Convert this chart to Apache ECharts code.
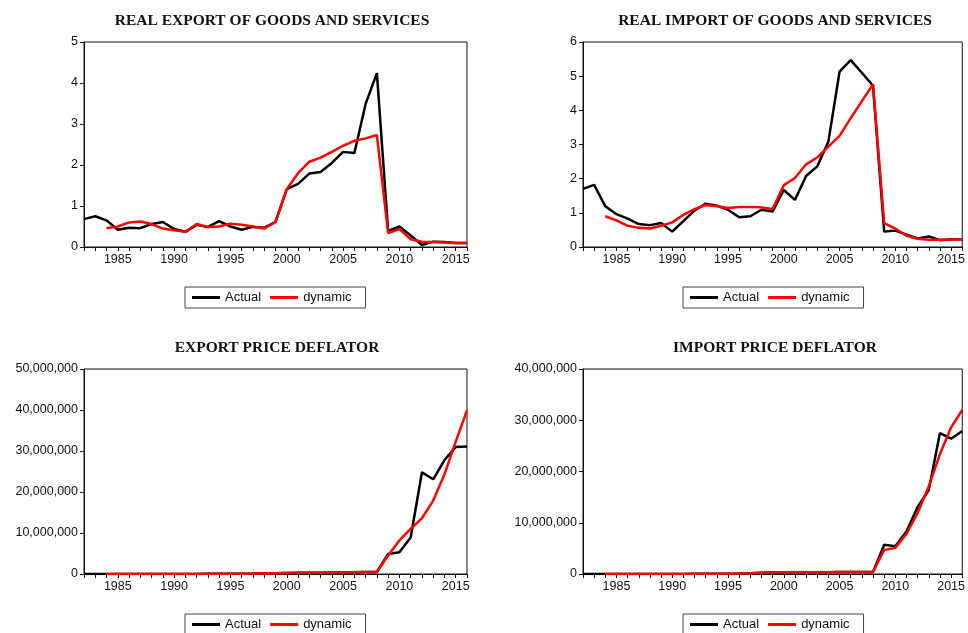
<!DOCTYPE html>
<html>
<head>
<meta charset="utf-8">
<script src="https://cdn.jsdelivr.net/npm/echarts@6/dist/echarts.min.js"></script>
<style>
  html, body { margin: 0; padding: 0; background: #fff; }
  #chart { width: 968px; height: 633px; }
</style>
</head>
<body>
<div id="chart"></div>
<script>
// Annual observations
var years = [1982, 1983, 1984, 1985, 1986, 1987, 1988, 1989, 1990, 1991,
             1992, 1993, 1994, 1995, 1996, 1997, 1998, 1999, 2000, 2001,
             2002, 2003, 2004, 2005, 2006, 2007, 2008, 2009, 2010, 2011,
             2012, 2013, 2014, 2015, 2016];

// Real export of goods and services
var exportActual = [0.68, 0.75, 0.65, 0.42, 0.47, 0.46, 0.56, 0.61, 0.44, 0.37,
                    0.54, 0.49, 0.63, 0.50, 0.42, 0.49, 0.47, 0.61, 1.41, 1.54,
                    1.79, 1.83, 2.05, 2.32, 2.29, 3.49, 4.24, 0.39, 0.50, 0.28,
                    0.05, 0.13, 0.12, 0.10, 0.10];
var exportDynamic = [null, null, 0.46, 0.50, 0.60, 0.62, 0.56, 0.45, 0.41, 0.37,
                     0.56, 0.49, 0.50, 0.57, 0.54, 0.50, 0.45, 0.61, 1.41, 1.80,
                     2.08, 2.18, 2.32, 2.47, 2.59, 2.65, 2.73, 0.34, 0.44, 0.19,
                     0.13, 0.12, 0.11, 0.10, 0.10];

// Real import of goods and services
var importActual = [1.70, 1.82, 1.19, 0.96, 0.83, 0.67, 0.64, 0.70, 0.45, 0.76,
                    1.07, 1.27, 1.21, 1.09, 0.87, 0.90, 1.09, 1.04, 1.67, 1.38,
                    2.08, 2.36, 3.09, 5.13, 5.47, 5.10, 4.72, 0.45, 0.48, 0.36,
                    0.25, 0.31, 0.20, 0.23, 0.23];
var importDynamic = [null, null, 0.90, 0.78, 0.62, 0.56, 0.54, 0.62, 0.72, 0.94,
                     1.11, 1.23, 1.19, 1.14, 1.17, 1.17, 1.16, 1.11, 1.81, 2.02,
                     2.42, 2.62, 2.94, 3.25, 3.77, 4.27, 4.76, 0.70, 0.54, 0.33,
                     0.24, 0.21, 0.21, 0.22, 0.22];

// Export price deflator
var expDeflActual = [2000, 3000, 4000, 5000, 6000, 8000, 10000, 12000, 15000, 20000,
                     30000, 40000, 50000, 60000, 80000, 100000, 150000, 200000, 250000, 280000,
                     300000, 320000, 350000, 380000, 420000, 460000, 500000, 4900000, 5300000, 8900000,
                     24800000, 23100000, 27800000, 31000000, 31100000];
var expDeflDynamic = [null, null, 4000, 5000, 6000, 8000, 10000, 12000, 15000, 20000,
                      30000, 40000, 50000, 60000, 80000, 100000, 150000, 200000, 250000, 280000,
                      300000, 320000, 350000, 380000, 420000, 460000, 500000, 4500000, 8200000, 11000000,
                      13600000, 17900000, 24300000, 32300000, 39900000];

// Import price deflator
var impDeflActual = [2000, 3000, 4000, 5000, 6000, 8000, 10000, 12000, 15000, 20000,
                     30000, 40000, 50000, 60000, 90000, 150000, 250000, 300000, 320000, 330000,
                     340000, 350000, 360000, 370000, 380000, 390000, 400000, 5700000, 5400000, 8300000,
                     13100000, 16400000, 27500000, 26400000, 27900000];
var impDeflDynamic = [null, null, 4000, 5000, 6000, 8000, 10000, 12000, 15000, 20000,
                      30000, 40000, 50000, 60000, 90000, 150000, 250000, 300000, 320000, 330000,
                      340000, 350000, 360000, 370000, 380000, 390000, 400000, 4700000, 5100000, 7800000,
                      11900000, 17100000, 23400000, 28600000, 32000000];

// Panel titles and y-axis ranges
var panelTitles = ['REAL EXPORT OF GOODS AND SERVICES', 'REAL IMPORT OF GOODS AND SERVICES',
                   'EXPORT PRICE DEFLATOR', 'IMPORT PRICE DEFLATOR'];
var yMax = [5, 6, 50000000, 40000000];
var yStep = [1, 1, 10000000, 10000000];
var seriesNames = ['Actual', 'dynamic'];

function pairs(vals) {
  var out = [];
  for (var i = 0; i < years.length; i++) {
    if (vals[i] !== null) out.push([years[i], vals[i]]);
  }
  return out;
}

var panels = [
  [exportActual, exportDynamic],
  [importActual, importDynamic],
  [expDeflActual, expDeflDynamic],
  [impDeflActual, impDeflDynamic]
];

var gridPos = [
  { left: 84, top: 42, width: 383, height: 205 },
  { left: 583, top: 42, width: 382, height: 205 },
  { left: 84, top: 369, width: 383, height: 205 },
  { left: 583, top: 369, width: 383, height: 205 }
];
var titleCenter = [[267, 8], [770, 8], [272, 335], [770, 335]];
var legendPos = [[185, 287], [683, 287], [185, 614], [683, 614]];

var sansFont = '"Liberation Sans", Arial, sans-serif';
var serifFont = '"Liberation Serif", "Times New Roman", serif';

function thousands(v) {
  return String(Math.round(v)).replace(/\B(?=(\d{3})+(?!\d))/g, ',');
}

var option = {
  animation: false,
  backgroundColor: '#ffffff',
  title: [],
  legend: [],
  grid: [],
  xAxis: [],
  yAxis: [],
  series: []
};

for (var p = 0; p < 4; p++) {
  option.title.push({
    text: panelTitles[p],
    left: titleCenter[p][0],
    top: titleCenter[p][1],
    textAlign: 'center',
    textStyle: { fontFamily: serifFont, fontWeight: 'bold', fontSize: 15.5, color: '#111' }
  });
  option.legend.push({
    data: seriesNames,
    left: legendPos[p][0],
    top: legendPos[p][1],
    orient: 'horizontal',
    icon: 'rect',
    itemWidth: 28,
    itemHeight: 3,
    itemGap: 9,
    padding: [4, 14, 4, 7],
    borderColor: '#444',
    borderWidth: 1,
    borderRadius: 0,
    selectedMode: false,
    textStyle: { fontFamily: sansFont, fontSize: 13, color: '#111' }
  });
  option.grid.push(Object.assign({
    show: true,
    borderColor: '#111',
    borderWidth: 1,
    backgroundColor: 'transparent'
  }, gridPos[p]));
  option.xAxis.push({
    type: 'value',
    gridIndex: p,
    min: 1982,
    max: 2016,
    interval: 1,
    axisLine: { show: true, onZero: false, lineStyle: { color: '#111', width: 1 } },
    axisTick: { show: true, inside: false, length: 4, lineStyle: { color: '#111' } },
    splitLine: { show: false },
    axisLabel: {
      fontFamily: sansFont, fontSize: 12.5, color: '#111', margin: 6,
      showMinLabel: true, showMaxLabel: true,
      formatter: function (v) { return v % 5 === 0 ? String(v) : ''; }
    }
  });
  option.yAxis.push({
    type: 'value',
    gridIndex: p,
    min: 0,
    max: yMax[p],
    interval: yStep[p],
    axisLine: { show: true, lineStyle: { color: '#111', width: 1 } },
    axisTick: { show: true, inside: false, length: 4, lineStyle: { color: '#111' } },
    splitLine: { show: false },
    axisLabel: {
      fontFamily: sansFont, fontSize: 12.5, color: '#111', margin: 6,
      formatter: p < 2 ? function (v) { return String(v); } : thousands
    }
  });
  option.series.push({
    name: seriesNames[0],
    type: 'line',
    xAxisIndex: p,
    yAxisIndex: p,
    data: pairs(panels[p][0]),
    showSymbol: false,
    symbol: 'none',
    lineStyle: { color: '#000000', width: 2.5 },
    itemStyle: { color: '#000000' },
    z: 2
  });
  option.series.push({
    name: seriesNames[1],
    type: 'line',
    xAxisIndex: p,
    yAxisIndex: p,
    data: pairs(panels[p][1]),
    showSymbol: false,
    symbol: 'none',
    lineStyle: { color: '#ff0000', width: 2.5 },
    itemStyle: { color: '#ff0000' },
    z: 3
  });
}

var chart = echarts.init(document.getElementById('chart'), null, { renderer: 'canvas' });
chart.setOption(option);
</script>
</body>
</html>
